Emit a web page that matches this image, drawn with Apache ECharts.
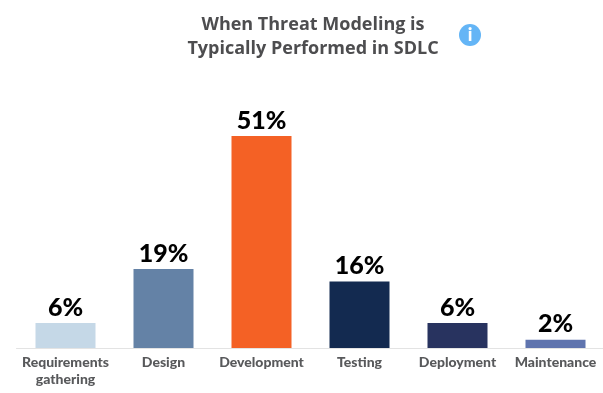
<!DOCTYPE html>
<html><head><meta charset="utf-8">
<style>html,body{margin:0;padding:0;background:#fff}#c{width:603px;height:393px}</style>
<script src="https://cdn.jsdelivr.net/npm/echarts@6/dist/echarts.min.js"></script>
</head><body><div id="c"></div>
<script>
const categories = ['Requirements\ngathering','Design','Development','Testing','Deployment','Maintenance'];
const values = [6,19,51,16,6,2];
const colors = ['#c5d8e7','#6482a6','#f46125','#132a50','#28335f','#5f74ae'];
const titleText = 'When Threat Modeling is\nTypically Performed in SDLC';
const chart = echarts.init(document.getElementById('c'),null,{renderer:'canvas'});
chart.setOption({
  animation:false,
  backgroundColor:'#fff',
  title:{text:titleText,left:308,top:8,textAlign:'center',
    textStyle:{fontFamily:'Open Sans',fontWeight:'bold',fontSize:18,lineHeight:24,color:'#4d4d4f'}},
  grid:{left:16.5,width:588,top:98.6,height:249.4,outerBoundsMode:'none',containLabel:false},
  xAxis:{type:'category',data:categories,
    axisTick:{show:false},
    axisLine:{lineStyle:{color:'#e3e3e3',width:1}},
    axisLabel:{interval:0,margin:6,fontFamily:'Lato',fontWeight:900,fontSize:14,lineHeight:17,color:'#58595b'}},
  yAxis:{type:'value',min:0,max:60,show:false,splitLine:{show:false}},
  series:[{type:'bar',barWidth:60,
    data:values.map((v,i)=>({value:v,itemStyle:{color:colors[i]}})),
    label:{show:true,position:'top',distance:3,formatter:'{c}%',fontFamily:'Lato',fontWeight:900,fontSize:25,color:'#000'}}],
  graphic:[
    {type:'circle',shape:{cx:470,cy:35,r:11},style:{fill:'#64b5f6'}},
    {type:'text',x:470,y:35,style:{text:'i',fill:'#fff',font:'900 18px "Lato"',align:'center',verticalAlign:'middle'}}
  ]
});
</script></body></html>
